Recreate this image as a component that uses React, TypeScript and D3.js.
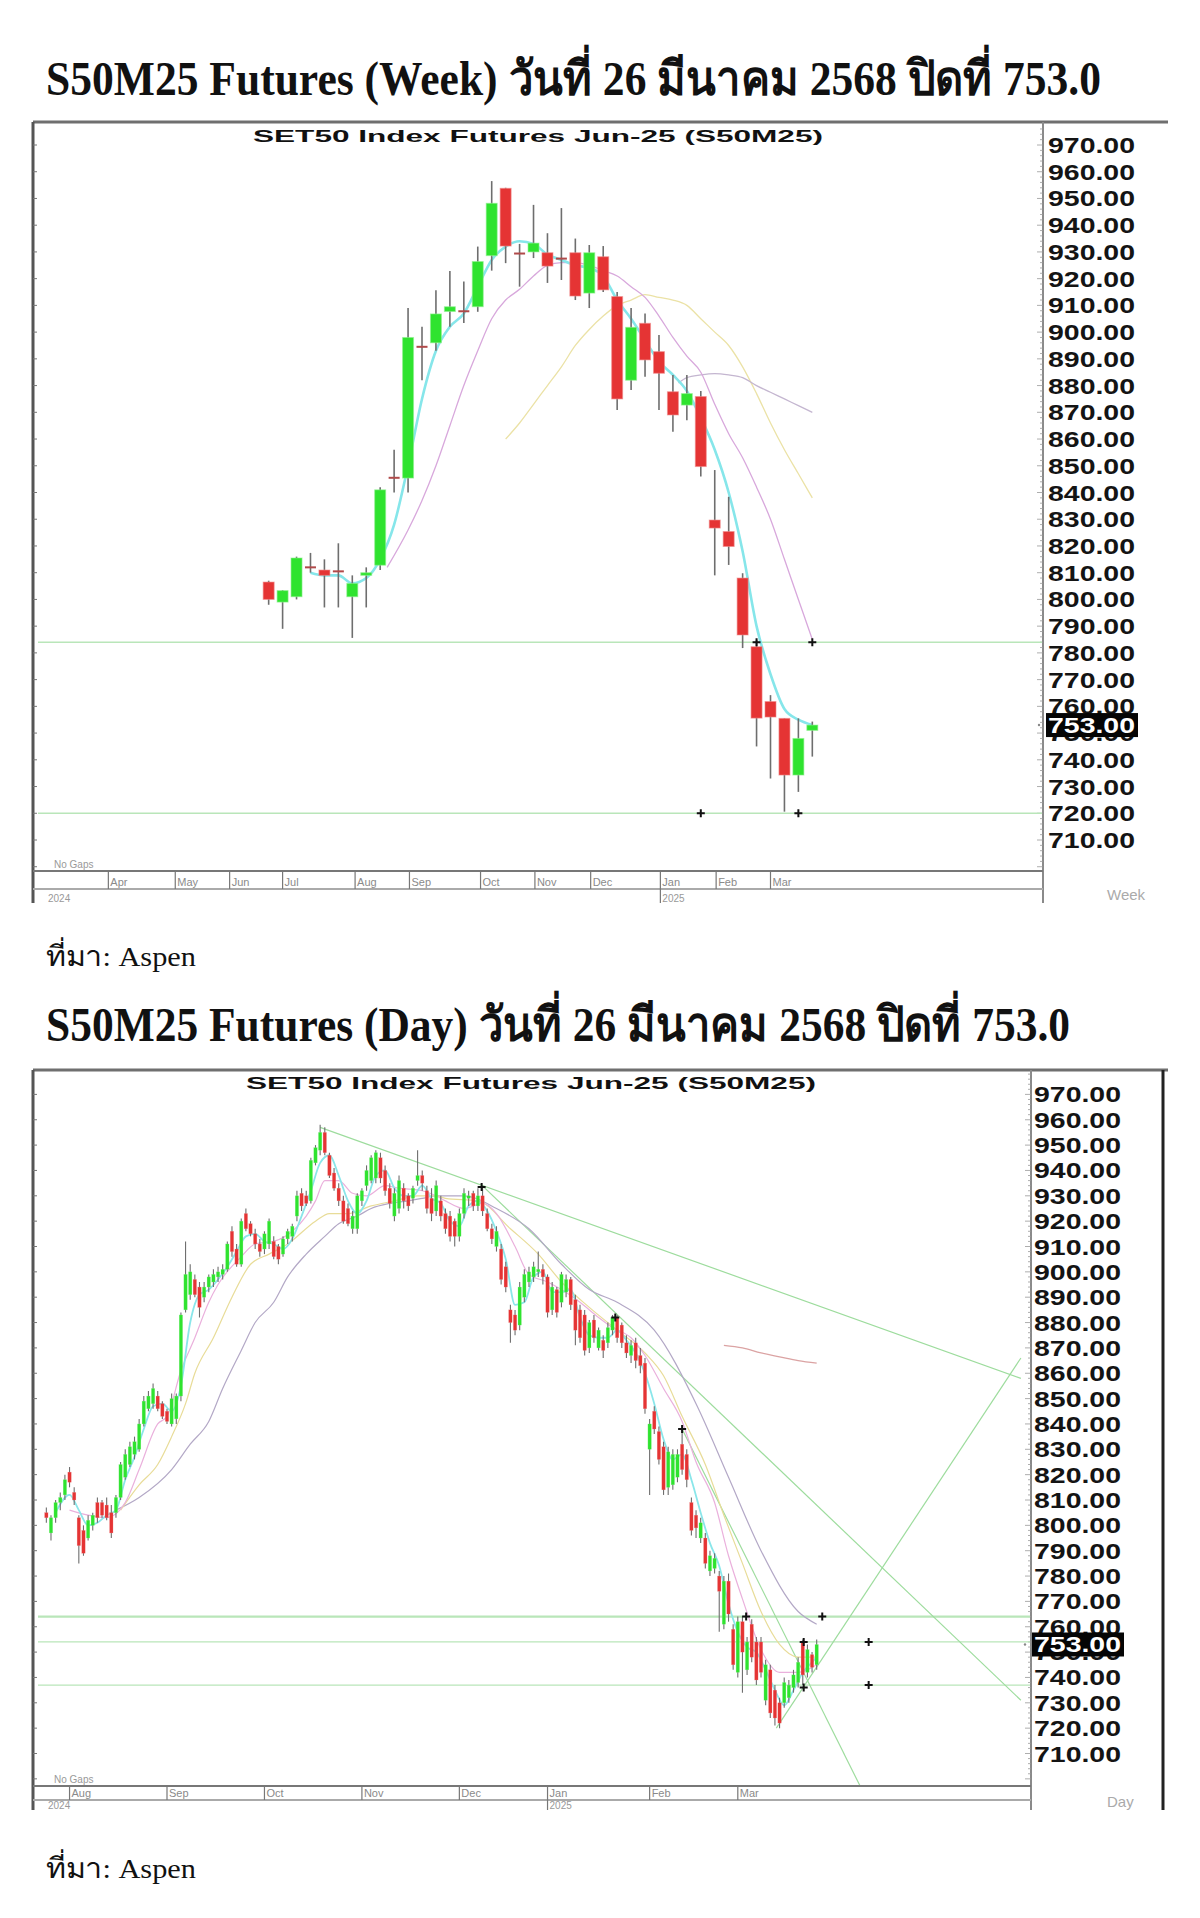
import React from "react";
import * as d3 from "d3";

type OHLC = [number, number, number, number]; // open, high, low, close
type Pt = [number, number];

// ---------- weekly data (week index 0 = 1 Apr 2024) ----------
const weekFirst = 12;
const weekCandles: OHLC[] = [
  [806.5, 807, 798, 800], [799, 803.5, 789, 803.3], [801, 816, 800, 815.5], [811.5, 817.4, 810, 812],
  [811, 815, 797, 809], [810.5, 821, 797, 810], [801, 809, 785.6, 806], [809, 812, 797, 810],
  [812.8, 842, 811, 841], [845, 856, 840, 845.5], [845.4, 909, 840, 898], [894, 902, 882, 894.5],
  [896, 915.7, 893, 906.8], [907.7, 922.9, 902, 909.5], [907.8, 918.9, 903.4, 907.3], [909.5, 932, 907.6, 926.4],
  [928.6, 956.5, 923, 948.2], [953.8, 954, 925.8, 932.2], [929, 933, 917, 929.4], [930, 947.6, 927.7, 933.3],
  [929.7, 937, 918.4, 924.7], [927.5, 946.4, 919.5, 927.2], [929.7, 935, 912, 913.5], [914.6, 932.6, 909, 929.7],
  [928.2, 932.2, 915, 915.8], [913.3, 915, 870.9, 875], [882, 909, 878.3, 901.8], [903.3, 907, 883.3, 889.6],
  [892.7, 898.9, 870.9, 884.6], [877.7, 884, 862.7, 869], [872.7, 884, 867, 877], [875.9, 878, 846, 849.7],
  [829.7, 848.4, 809, 826.7], [825.4, 838.4, 812.9, 819.8], [808, 809.8, 781.8, 786.7], [782.3, 784.8, 745, 755.6],
  [761.8, 764.2, 733, 756], [755.5, 755.5, 720.6, 734.3], [734.3, 755.5, 728, 748], [751, 754.3, 741.2, 753],
];
const weekCyan: Pt[] = [
  [15, 810], [16, 809], [17, 809], [18, 806], [19, 808], [20, 815], [21, 828], [22, 850], [23, 875], [24, 893],
  [25, 902], [26, 907], [27, 917], [28, 927], [29, 932], [30, 934], [31, 933], [32, 929], [33, 927], [34, 925],
  [35, 924], [36, 921], [37, 912], [38, 905], [39, 897], [40, 889], [41, 884], [42, 878], [43, 868], [44, 856],
  [45, 840], [46, 818], [47, 790], [48, 772], [49, 759], [50, 755], [51, 753],
];
const weekPink: Pt[] = [
  [20.5, 812], [22, 826], [23, 837], [24, 850], [25, 865], [26, 880], [27, 893], [28, 905], [29, 912], [30, 916],
  [31, 921], [32, 925], [33, 926], [34, 926], [35, 925], [36, 923], [37, 921], [38, 917], [39, 913], [40, 906],
  [41, 898], [42, 891], [43, 885], [44, 873], [45, 862], [46, 853], [47, 842], [48, 830], [49, 815], [50, 800], [51, 785],
];
const weekYellow: Pt[] = [
  [29, 860], [30, 866], [31, 873], [32, 880], [33, 887], [34, 895], [35, 901], [36, 906], [37, 910], [38, 912],
  [39, 914], [40, 913], [41, 912], [42, 910], [43, 905], [44, 900], [45, 895], [46, 887], [47, 877], [48, 866],
  [49, 856], [50, 847], [51, 838],
];
const weekGray: Pt[] = [
  [41.4, 881], [42, 883], [43, 884], [44, 884.5], [45, 884], [46, 883], [47, 880], [48, 877.5], [49, 875], [50, 872.5], [51, 870],
];
const weekLevels = [784, 720];
const weekMarks: Pt[] = [[47, 784], [51, 784], [43, 720], [50, 720]];
const weekMonths = ["Apr", "May", "Jun", "Jul", "Aug", "Sep", "Oct", "Nov", "Dec", "Jan", "Feb", "Mar"];
const weekMonthAt = [0.5, 5.3, 9.2, 13, 18.2, 22.1, 27.2, 31.1, 35.1, 40.1, 44.1, 48];

// ---------- daily data (trading day index 0 = 24 Jul 2024) ----------
const dayCandles: OHLC[] = [
  [805, 807, 801, 803], [797, 804, 794, 803], [803, 810, 801, 809], [809, 813, 806, 811], [812, 820, 810, 818],
  [821, 823, 815, 817], [813, 815, 808, 810], [803, 804, 785, 792], [798, 800, 788, 789], [795, 804, 794, 802],
  [800, 805, 798, 804], [809, 811, 801, 803], [809, 810, 803, 804], [808, 811, 802, 803], [805, 808, 795, 797],
  [805, 812, 803, 811], [811, 825, 810, 824], [819, 830, 818, 828], [824, 833, 823, 831], [828, 835, 826, 833],
  [830, 842, 829, 840], [840, 851, 839, 849], [846, 853, 845, 851], [848, 856, 846, 854], [851, 853, 845, 846],
  [848, 849, 842, 843], [845, 846, 840, 841], [840, 852, 839, 850], [842, 852, 840, 851], [851, 884, 849, 883],
  [885, 912, 884, 899], [891, 903, 889, 900], [897, 899, 890, 891], [894, 896, 882, 886], [890, 896, 888, 894],
  [894, 899, 892, 898], [896, 901, 894, 899], [898, 902, 896, 900], [899, 903, 897, 901], [901, 912, 900, 911],
  [916, 918, 906, 908], [909, 911, 902, 903], [903, 921, 902, 920], [923, 925, 916, 917], [919, 920, 914, 915],
  [915, 917, 909, 911], [911, 913, 906, 908], [909, 916, 907, 915], [911, 921, 909, 920], [912, 914, 905, 906],
  [910, 911, 903, 905], [907, 914, 906, 913], [913, 917, 911, 916], [914, 919, 912, 918], [922, 932, 920, 930],
  [931, 933, 924, 926], [930, 932, 926, 927], [928, 945, 927, 944], [943, 950, 942, 949], [948, 958, 946, 955],
  [955, 957, 946, 947], [946, 947, 937, 938], [939, 941, 932, 933], [933, 935, 926, 928], [928, 930, 919, 920],
  [925, 927, 918, 919], [917, 924, 915, 922], [917, 931, 915, 930], [928, 933, 926, 932], [934, 942, 932, 940],
  [936, 946, 935, 945], [937, 948, 935, 947], [945, 947, 935, 937], [940, 942, 930, 932], [933, 935, 925, 927],
  [922, 933, 920, 931], [925, 938, 923, 936], [933, 935, 925, 928], [930, 931, 924, 926], [929, 934, 927, 933],
  [936, 948, 934, 938], [938, 940, 932, 935], [932, 934, 923, 925], [929, 933, 920, 923], [924, 936, 922, 934],
  [928, 930, 920, 922], [923, 925, 915, 917], [922, 924, 912, 914], [920, 921, 910, 914], [914, 925, 912, 923],
  [923, 933, 921, 931], [929, 932, 926, 930], [931, 932, 924, 926], [926, 933, 924, 930], [930, 934, 922, 924],
  [923, 925, 916, 917], [917, 919, 911, 913], [910, 918, 908, 916], [909, 911, 895, 897], [902, 904, 892, 894],
  [885, 887, 872, 880], [883, 885, 875, 877], [879, 896, 877, 894], [890, 901, 888, 899], [896, 902, 894, 900],
  [898, 904, 896, 902], [900, 908, 898, 901], [901, 903, 895, 898], [898, 899, 882, 884], [885, 896, 883, 894],
  [893, 894, 882, 884], [888, 900, 886, 899], [892, 899, 890, 897], [897, 898, 885, 887], [889, 891, 871, 877],
  [885, 887, 872, 874], [883, 885, 867, 869], [870, 881, 868, 880], [881, 883, 872, 874], [870, 878, 869, 877],
  [873, 875, 866, 869], [872, 880, 870, 878], [877, 883, 875, 882], [882, 883, 872, 874], [879, 880, 870, 872],
  [872, 875, 866, 868], [867, 873, 864, 871], [872, 874, 862, 865], [867, 870, 860, 863], [864, 866, 844, 846],
  [830, 842, 812, 840], [845, 847, 836, 838], [837, 839, 824, 826], [831, 833, 812, 814], [815, 831, 812, 829],
  [816, 830, 814, 828], [819, 830, 817, 828], [832, 838, 820, 822], [828, 830, 815, 818], [809, 811, 796, 798],
  [804, 806, 795, 799], [795, 803, 793, 801], [795, 797, 783, 785], [782, 790, 780, 788], [783, 789, 781, 787],
  [780, 782, 758, 774], [761, 780, 759, 778], [778, 781, 762, 765], [759, 761, 743, 745], [742, 764, 740, 762],
  [762, 764, 734, 750], [743, 756, 741, 754], [761, 763, 746, 748], [754, 756, 737, 739], [754, 756, 740, 742],
  [731, 747, 729, 745], [743, 745, 724, 726], [735, 737, 721, 724], [730, 732, 720, 722], [730, 740, 728, 738],
  [732, 739, 730, 737], [736, 743, 734, 741], [738, 748, 736, 746], [754, 755, 737, 741], [742, 753, 740, 751],
  [749, 750, 742, 744], [745, 755, 743, 753],
];
const dayCyan: Pt[] = [
  [2, 805], [5, 812], [7, 806], [9, 800], [11, 801], [13, 804], [15, 806], [17, 818], [19, 827], [21, 838],
  [23, 847], [25, 848], [27, 845], [29, 855], [31, 880], [33, 891], [35, 893], [37, 897], [39, 902], [41, 908],
  [43, 914], [45, 915], [47, 912], [49, 911], [51, 909], [53, 913], [55, 922], [57, 932], [59, 943], [61, 946],
  [63, 938], [65, 928], [67, 923], [69, 928], [71, 938], [73, 940], [75, 933], [77, 930], [79, 930], [81, 934],
  [83, 929], [85, 927], [87, 920], [89, 918], [91, 926], [93, 928], [95, 924], [97, 916], [99, 905], [101, 887],
  [103, 888], [105, 898], [107, 900], [109, 892], [111, 892], [113, 893], [115, 882], [117, 875], [119, 874],
  [121, 874], [123, 877], [125, 873], [127, 868], [129, 860], [131, 848], [133, 834], [135, 826], [137, 828],
  [139, 818], [141, 805], [143, 793], [145, 784], [147, 769], [149, 758], [151, 752], [153, 750], [155, 743],
  [157, 735], [159, 729], [161, 735], [163, 742], [165, 746], [166, 748],
];
const dayPink: Pt[] = [
  [5, 806], [9, 804], [13, 803], [17, 809], [20, 822], [24, 840], [26, 843], [29, 861], [32, 874], [35, 888],
  [37, 895], [42, 906], [45, 911], [49, 912], [53, 916], [56, 922], [58, 928], [60, 936], [63, 936], [66, 931],
  [69, 930], [73, 934], [76, 933], [81, 932], [84, 930], [86, 928], [90, 925], [94, 927], [97, 923], [101, 910],
  [104, 899], [108, 896], [111, 893], [115, 888], [119, 882], [122, 878], [126, 874], [129, 867], [133, 854],
  [137, 841], [140, 825], [144, 809], [147, 788], [150, 771], [154, 751], [158, 742], [162, 742], [166, 745],
];
const dayYellow: Pt[] = [
  [16, 806], [20, 816], [24, 824], [27, 835], [30, 848], [32, 860], [36, 874], [40, 890], [44, 903], [48, 907],
  [52, 911], [58, 920], [61, 923], [65, 923], [70, 926], [75, 928], [80, 930], [84, 930], [86, 929], [93, 928],
  [100, 917], [106, 907], [111, 896], [117, 886], [123, 877], [129, 868], [133, 859], [137, 843], [142, 824],
  [146, 804], [150, 785], [154, 766], [158, 753], [162, 748], [166, 748],
];
const dayGray: Pt[] = [
  [15, 806], [20, 811], [27, 822], [31, 832], [35, 841], [38, 854], [42, 869], [45, 880], [49, 888], [52, 898],
  [56, 907], [60, 914], [63, 919], [67, 922], [70, 925], [74, 927], [78, 928], [81, 929], [84, 930], [90, 930],
  [97, 925], [104, 917], [111, 903], [117, 893], [123, 888], [131, 877], [140, 848], [147, 819], [154, 790],
  [162, 766], [166, 761],
];
const dayRose: Pt[] = [[146, 871], [150, 870], [154, 868], [158, 866.5], [162, 865], [166, 864]];
const dayTrends: Pt[][] = [
  [[59, 957], [210, 858]],
  [[93.6, 934.6], [210, 731]],
  [[137, 838], [175.4, 697]],
  [[157.3, 720], [210, 866]],
];
const dayLevels = [764, 754, 737];
const dayMarks: Pt[] = [
  [93.8, 933.5], [122.6, 882], [137, 838], [150.8, 764], [167.2, 764],
  [163.2, 754], [177.2, 754], [163.2, 736], [177.2, 737],
];
const dayMonths = ["Aug", "Sep", "Oct", "Nov", "Dec", "Jan", "Feb", "Mar"];
const dayMonthAt = [5, 26, 47, 68, 89, 108, 130, 149];

const priceTicks = d3.range(710, 971, 10);
const lastClose = 753;

const GREEN = "#2fe32f";
const RED = "#e53434";
const WICK = "#6e6e6e";
const LEVEL = "#b9e6b9";
const SANS = "'Liberation Sans', Arial, sans-serif";
const SERIF = "'Liberation Serif', 'Times New Roman', serif";

interface MA { pts: Pt[]; color: string; w: number; }

interface PanelProps {
  top: number; left: number; axisX: number; bandTop: number; bandBot: number; bottom: number;
  rightBorder?: number;
  x: d3.ScaleLinear<number, number>;
  y: d3.ScaleLinear<number, number>;
  candles: OHLC[]; first: number; bw: number;
  mas: MA[]; levels: number[]; levelW: number[];
  trends: Pt[][]; marks: Pt[];
  months: string[]; monthAt: number[]; yearIdx: number;
  labelX: number; subX: number; subY: number; period: string; id: string;
}

function Panel(p: PanelProps) {
  const { x, y } = p;
  const line = d3.line<Pt>().x((d) => x(d[0])).y((d) => y(d[1])).curve(d3.curveMonotoneX);
  const straight = d3.line<Pt>().x((d) => x(d[0])).y((d) => y(d[1]));
  const minor = d3.range(700, 982, 2).filter((v) => y(v) > p.top + 3 && y(v) < p.bandTop - 2);
  const yClose = y(lastClose);
  return (
    <g>
      <defs>
        <clipPath id={p.id}>
          <rect x={p.left + 2} y={p.top + 2} width={p.axisX - p.left - 3} height={p.bandTop - p.top - 3} />
        </clipPath>
      </defs>
      {/* frame */}
      <line x1={p.left} x2={1168} y1={p.top} y2={p.top} stroke="#6f6f6f" strokeWidth={3} />
      <line x1={p.left} x2={p.left} y1={p.top} y2={p.bottom} stroke="#555" strokeWidth={3} />
      <line x1={p.axisX} x2={p.axisX} y1={p.top} y2={p.bottom} stroke="#8a8a8a" strokeWidth={2} />
      {p.rightBorder && (
        <line x1={p.rightBorder} x2={p.rightBorder} y1={p.top} y2={p.bottom} stroke="#222" strokeWidth={3} />
      )}
      {d3.range(700, 982, 10).filter((v) => y(v) > p.top + 4 && y(v) < p.bandTop).map((v) => (
        <line key={"lt" + v} x1={p.left} x2={p.left + 4} y1={y(v)} y2={y(v)} stroke="#777" strokeWidth={1} />
      ))}
      {minor.map((v) => (
        <line key={"rt" + v} x1={p.axisX - (v % 10 === 0 ? 6 : 3)} x2={p.axisX} y1={y(v)} y2={y(v)} stroke="#999" strokeWidth={0.8} />
      ))}

      <text x={p.subX} y={p.subY} textAnchor="middle" fontFamily={SANS} fontWeight="bold" fontSize={17}
        fill="#111" textLength={570} lengthAdjust="spacingAndGlyphs">
        SET50  Index  Futures  Jun-25  (S50M25)
      </text>

      <g clipPath={`url(#${p.id})`}>
        {p.levels.map((v, k) => (
          <line key={"lv" + v} x1={p.left + 5} x2={p.axisX} y1={y(v)} y2={y(v)} stroke={LEVEL} strokeWidth={p.levelW[k]} />
        ))}
        {p.trends.map((t, k) => (
          <path key={"tr" + k} d={straight(t) || ""} fill="none" stroke="#9ddc9d" strokeWidth={1.2} />
        ))}
        {p.mas.map((m, k) => (
          <path key={"ma" + k} d={line(m.pts) || ""} fill="none" stroke={m.color} strokeWidth={m.w} />
        ))}
        {p.candles.map((d, k) => {
          const [o, h, l, c] = d;
          const cx = x(p.first + k);
          const t = y(Math.max(o, c));
          const b = y(Math.min(o, c));
          const flat = Math.abs(c - o) < 0.8;
          const col = flat ? "#b04a4a" : c > o ? GREEN : RED;
          return (
            <g key={"c" + k}>
              <line x1={cx} x2={cx} y1={y(h)} y2={y(l)} stroke={WICK} strokeWidth={p.bw > 6 ? 1.6 : 1.1} />
              <rect x={cx - p.bw / 2} y={flat ? t - 1 : t} width={p.bw} height={flat ? 2 : Math.max(1.5, b - t)}
                fill={col} stroke={flat ? "none" : c > o ? "#8ff08f" : "#f08a8a"} strokeWidth={p.bw > 6 ? 1 : 0.4} strokeOpacity={0.6} />
            </g>
          );
        })}
        {p.marks.map((m, k) => {
          const mx = x(m[0]);
          const my = y(m[1]);
          return <path key={"mk" + k} d={`M${mx - 4},${my}h8M${mx},${my - 4}v8`} stroke="#111" strokeWidth={2} />;
        })}
      </g>

      {/* price labels */}
      {priceTicks.map((v) => (
        <text key={"pl" + v} x={p.labelX} y={y(v) + 8} fontFamily={SANS} fontWeight="bold" fontSize={22}
          fill="#141414" textLength={87} lengthAdjust="spacingAndGlyphs">
          {v.toFixed(2)}
        </text>
      ))}
      <rect x={p.labelX - 2} y={yClose - 12} width={92} height={24} fill="#050505" />
      <text x={p.labelX} y={yClose + 8} fontFamily={SANS} fontWeight="bold" fontSize={22} fill="#fff"
        textLength={87} lengthAdjust="spacingAndGlyphs">
        {lastClose.toFixed(2)}
      </text>
      <circle cx={p.labelX - 9} cy={yClose} r={1.2} fill="#888" />

      {/* time axis */}
      <line x1={p.left} x2={p.axisX} y1={p.bandTop} y2={p.bandTop} stroke="#777" strokeWidth={2} />
      <line x1={p.left} x2={p.axisX} y1={p.bandBot} y2={p.bandBot} stroke="#aaa" strokeWidth={2} />
      {p.months.map((m, k) => {
        const mx = x(p.monthAt[k]);
        return (
          <g key={"m" + m}>
            <line x1={mx} x2={mx} y1={p.bandTop} y2={k === p.yearIdx ? p.bottom : p.bandBot} stroke="#777" strokeWidth={1.2} />
            <text x={mx + 2} y={p.bandBot - 3} fontFamily={SANS} fontSize={11} fill="#8a8a8a">{m}</text>
          </g>
        );
      })}
      <text x={p.left + 15} y={p.bottom - 1} fontFamily={SANS} fontSize={10} fill="#999">2024</text>
      <text x={x(p.monthAt[p.yearIdx]) + 2} y={p.bottom - 1} fontFamily={SANS} fontSize={10} fill="#999">2025</text>
      <text x={p.left + 21} y={p.bandTop - 3} fontFamily={SANS} fontSize={10} fill="#999">No  Gaps</text>
      <text x={1107} y={p.bottom - 3} fontFamily={SANS} fontSize={15} fill="#aaa">{p.period}</text>
    </g>
  );
}

export default function App() {
  const xW = d3.scaleLinear().domain([13, 48]).range([282.6, 770.5]);
  const yW = d3.scaleLinear().domain([710, 970]).range([840, 145]);
  const xD = d3.scaleLinear().domain([26, 149]).range([167, 737.8]);
  const yD = d3.scaleLinear().domain([710, 970]).range([1753.5, 1094.4]);

  const weekMAs: MA[] = [
    { pts: weekYellow, color: "#ebe2a6", w: 1.3 },
    { pts: weekGray, color: "#c4b6d0", w: 1.3 },
    { pts: weekPink, color: "#d8a8dc", w: 1.3 },
    { pts: weekCyan, color: "#86e6ea", w: 2.6 },
  ];
  const dayMAs: MA[] = [
    { pts: dayRose, color: "#dba3a3", w: 1.3 },
    { pts: dayGray, color: "#b3a8c6", w: 1.2 },
    { pts: dayYellow, color: "#e8dc98", w: 1.2 },
    { pts: dayPink, color: "#eab0dc", w: 1.2 },
    { pts: dayCyan, color: "#8ae6ea", w: 1.8 },
  ];

  return (
    <div style={{ position: "absolute", left: 0, top: 0, width: 1200, height: 1918, background: "#fff" }}>
      <svg width={1200} height={1918} viewBox="0 0 1200 1918">
        <rect width={1200} height={1918} fill="#fff" />
        <text x={46} y={95} fontFamily={SERIF} fontWeight="bold" fontSize={48} fill="#111"
          textLength={1055} lengthAdjust="spacingAndGlyphs">
          S50M25 Futures (Week) วันที่ 26 มีนาคม 2568 ปิดที่ 753.0
        </text>
        <Panel id="wk" top={122} left={33} axisX={1043} bandTop={871} bandBot={889} bottom={903}
          x={xW} y={yW} candles={weekCandles} first={weekFirst} bw={11}
          mas={weekMAs} levels={weekLevels} levelW={[1.4, 1.4]} trends={[]} marks={weekMarks}
          months={weekMonths} monthAt={weekMonthAt} yearIdx={9}
          labelX={1048} subX={538} subY={142} period="Week" />
        <text x={46} y={966} fontFamily={SERIF} fontSize={28} fill="#111" textLength={150} lengthAdjust="spacingAndGlyphs">
          ที่มา: Aspen
        </text>

        <text x={46} y={1041} fontFamily={SERIF} fontWeight="bold" fontSize={48} fill="#111"
          textLength={1024} lengthAdjust="spacingAndGlyphs">
          S50M25 Futures (Day) วันที่ 26 มีนาคม 2568 ปิดที่ 753.0
        </text>
        <Panel id="dy" top={1070} left={33} axisX={1031} bandTop={1786} bandBot={1800} bottom={1810} rightBorder={1163}
          x={xD} y={yD} candles={dayCandles} first={0} bw={3.4}
          mas={dayMAs} levels={dayLevels} levelW={[2.4, 1.3, 1.3]} trends={dayTrends} marks={dayMarks}
          months={dayMonths} monthAt={dayMonthAt} yearIdx={5}
          labelX={1034} subX={531} subY={1089} period="Day" />
        <text x={46} y={1878} fontFamily={SERIF} fontSize={28} fill="#111" textLength={150} lengthAdjust="spacingAndGlyphs">
          ที่มา: Aspen
        </text>
      </svg>
    </div>
  );
}
